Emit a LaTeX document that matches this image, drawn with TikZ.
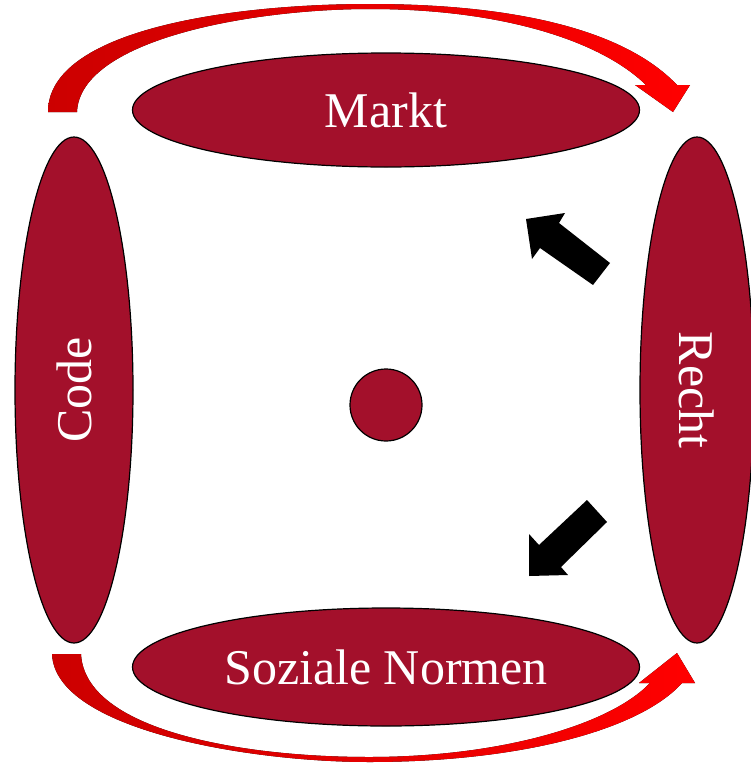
\documentclass[tikz,border=0pt]{standalone}
\usepackage{fontspec}
\setmainfont{Liberation Serif}
\usetikzlibrary{shapes.geometric}

\definecolor{wine}{RGB}{163,16,43}

\tikzset{
  field/.style={ellipse,draw=black,line width=1.2pt,fill=wine,text=white,inner sep=0pt,
    font=\fontsize{50}{60}\selectfont},
  flow/.style={left color=red!80!black,right color=red,draw=none},
  push/.style={fill=black,draw=none}
}

\begin{document}
\begin{tikzpicture}[x=1pt,y=-1pt]

  \useasboundingbox (0,0) rectangle (751,763);

  % The four forces
  \node[field,minimum width=507pt,minimum height=114pt] (markt) at (386,110) {Markt};
  \node[field,minimum width=507pt,minimum height=118pt] (normen) at (386,667) {Soziale Normen};
  \node[field,minimum width=118pt,minimum height=506pt] (code) at (74,390) {};
  \node[field,minimum width=114pt,minimum height=506pt] (recht) at (697,390) {};
  \node[text=white,font=\fontsize{50}{60}\selectfont,rotate=90] (codetxt) at (code.center) {Code};
  \node[text=white,font=\fontsize{50}{60}\selectfont,rotate=-90] (rechttxt) at (recht.center) {Recht};

  % Regulated person in the middle
  \node[circle,draw=black,line width=1.2pt,fill=wine,minimum size=72pt,inner sep=0pt] (dot) at (386,405) {};

  % Curved arrow above
  \fill[flow] (48,112) -- (77,112)
    .. controls (80,40) and (250,9) .. (370,9)
    .. controls (500,9) and (600,40) .. (646,85)
    -- (635,85) -- (673,112) -- (690,85) -- (677,85)
    .. controls (620,25) and (500,4) .. (370,4)
    .. controls (230,4) and (48,30) .. (48,112) -- cycle;

  % Curved arrow below
  \fill[flow] (52,654)
    .. controls (55,730) and (250,762) .. (369,762)
    .. controls (520,762) and (640,730) .. (682,683)
    -- (695,683) -- (677,653) -- (639,683) -- (650,683)
    .. controls (610,725) and (500,757) .. (369,757)
    .. controls (240,757) and (85,730) .. (81,654) -- cycle;

  % Recht acts on Markt and on Normen
  \fill[push] (526,219) -- (565,213) -- (559,223) -- (610,263)
    -- (593,285) -- (540,248) -- (532,259) -- cycle;
  \fill[push] (529,576) -- (529,534) -- (539,545) -- (587,500)
    -- (607,522) -- (561,567) -- (568,575) -- cycle;

\end{tikzpicture}
\end{document}
